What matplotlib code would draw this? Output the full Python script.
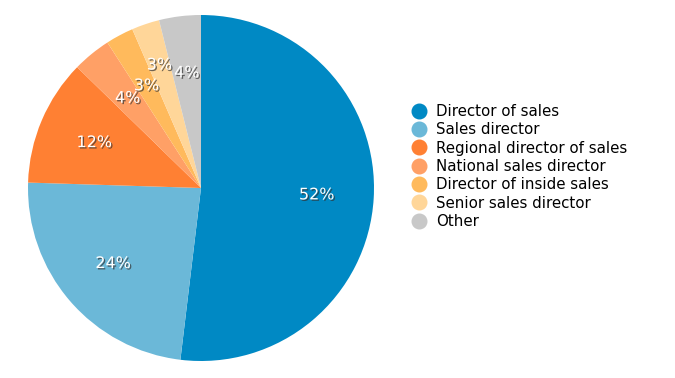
import matplotlib
matplotlib.use("Agg")
import matplotlib.pyplot as plt
import matplotlib.patheffects as pe
from matplotlib.lines import Line2D

categories = ["Director of sales", "Sales director", "Regional director of sales",
              "National sales director", "Director of inside sales",
              "Senior sales director", "Other"]
values = [51.9, 23.6, 11.8, 3.6, 2.6, 2.6, 3.9]
colors = ["#0089C4", "#6BB8D8", "#FF8033", "#FFA066", "#FFBA5C", "#FFD699", "#C8C8C8"]

fig = plt.figure(figsize=(6.75, 3.78), dpi=100)
W, H = 675, 378
cx, cy, r = 201, 188, 173
ax = fig.add_axes([(cx - r) / W, (H - cy - r) / H, 2 * r / W, 2 * r / H])

wedges, texts, autotexts = ax.pie(
    values, colors=colors, startangle=90, counterclock=False,
    autopct=lambda p: f"{p:.0f}%", pctdistance=0.67,
    wedgeprops=dict(linewidth=0), radius=1.0)
for t in autotexts:
    t.set_color("white")
    t.set_fontsize(11.5)
    t.set_path_effects([pe.withSimplePatchShadow(offset=(1, -1), shadow_rgbFace="#333333", alpha=0.7)])
# senior sales director label sits a little further out in the reference
x, y = autotexts[5].get_position()
autotexts[5].set_position((x * 1.12, y * 1.12))
ax.set_xlim(-1, 1)
ax.set_ylim(-1, 1)
ax.set_aspect("auto")
ax.axis("off")

handles = [Line2D([0], [0], marker="o", linestyle="none", markersize=10.5,
                  markerfacecolor=c, markeredgecolor=c) for c in colors]
fig.legend(handles, categories, loc="upper left",
           bbox_to_anchor=(405 / W, 1 - 98 / H), frameon=False,
           fontsize=10.8, handletextpad=0.68, labelspacing=0.22,
           handlelength=1.0, borderaxespad=0)

fig.savefig("out.png", dpi=100)
